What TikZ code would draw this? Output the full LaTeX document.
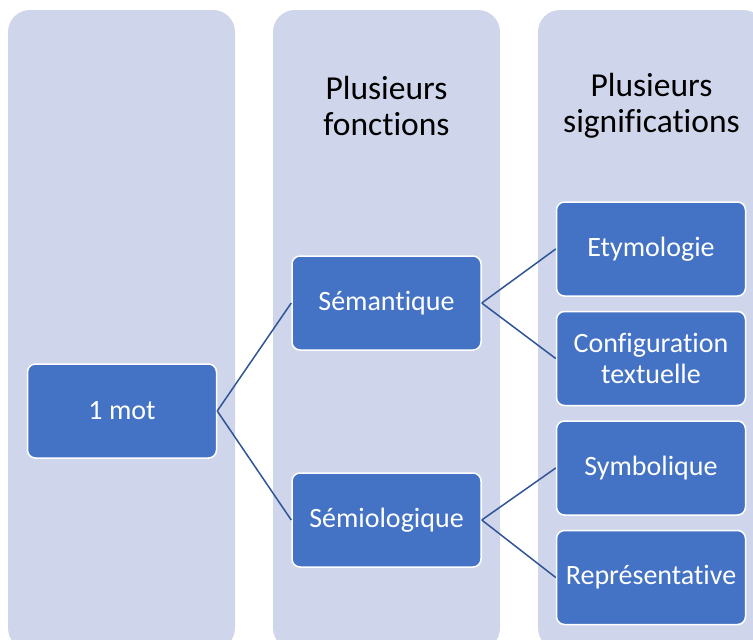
\documentclass[tikz,border=0pt]{standalone}
\usepackage{fontspec}
\setmainfont{Carlito}[Ligatures={NoCommon,NoContextual}]
\usepackage{xcolor}
\usepackage{tikz}
\usetikzlibrary{positioning}
\definecolor{colfill}{HTML}{CFD5EA}
\definecolor{boxfill}{HTML}{4472C4}
\definecolor{linkblue}{HTML}{2F5597}

\begin{document}
\begin{tikzpicture}[x=1pt, y=-1pt,
    column/.style={fill=colfill, rounded corners=22pt},
    box/.style={draw=white, line width=1.5pt, fill=boxfill, rounded corners=8pt,
        minimum width=189pt, minimum height=94pt, inner sep=0pt,
        text=white, align=center, font=\fontsize{28}{31}\selectfont},
    heading/.style={align=center, font=\fontsize{33.5}{36}\selectfont},
    link/.style={draw=linkblue, line width=1.5pt}]
    \useasboundingbox (0,0) rectangle (753,640);
    \clip (0,0) rectangle (753,640);

    % Columns
    \fill [column] (8,10) rectangle (235,650);
    \fill [column] (273,10) rectangle (500,650);
    \fill [column] (538,10) rectangle (765,650);

    % Headings
    \node [heading] (fonctions) at (386.5,106) {Plusieurs\\fonctions};
    \node [heading] (significations) at (651.5,106) {Plusieurs\\significations};

    % Word
    \node [box] (mot) at (122,411) {1 mot};

    % Functions
    \node [box] (semantique) at (386.5,303) {Sémantique};
    \node [box] (semiologique) at (386.5,520) {Sémiologique};

    % Meanings
    \node [box] (etymologie) at (651,249) {Etymologie};
    \node [box, below=14pt of etymologie] (configuration) {Configuration\\textuelle};
    \node [box, below=14pt of configuration] (symbolique) {Symbolique};
    \node [box, below=14pt of symbolique] (representative) {Représentative};

    % Links
    \draw [link] (mot.east) -- (semantique.west);
    \draw [link] (mot.east) -- (semiologique.west);
    \draw [link] (semantique.east) -- (etymologie.west);
    \draw [link] (semantique.east) -- (configuration.west);
    \draw [link] (semiologique.east) -- (symbolique.west);
    \draw [link] (semiologique.east) -- (representative.west);
\end{tikzpicture}
\end{document}
